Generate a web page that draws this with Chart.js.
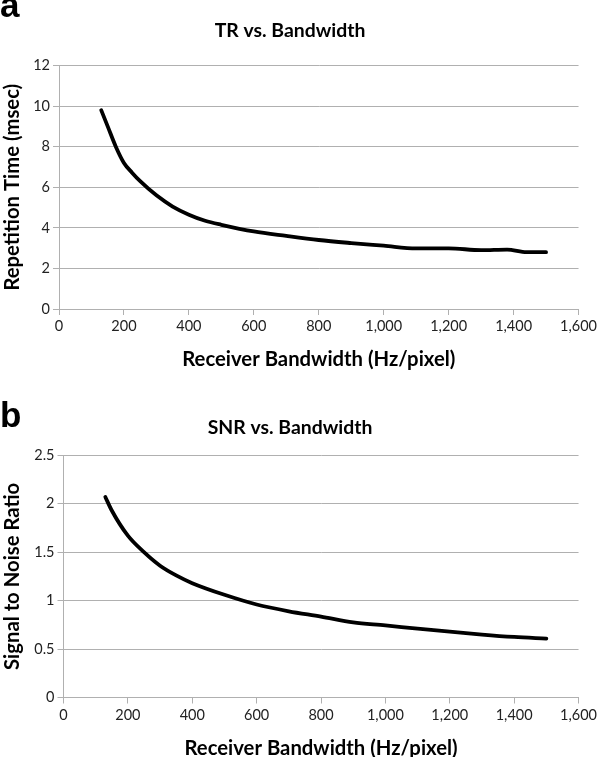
<!DOCTYPE html>
<html><head><meta charset="utf-8">
<script src="https://cdn.jsdelivr.net/npm/chart.js@4.4.1/dist/chart.umd.min.js"></script>
<style>
html,body{margin:0;padding:0;background:#fff}
body{width:600px;height:757px;overflow:hidden;position:relative}
canvas{position:absolute;left:0}
</style></head><body>
<canvas id="ca" width="600" height="378" style="top:0"></canvas>
<canvas id="cb" width="600" height="379" style="top:378px"></canvas>
<script>
// ---- data ----
const bandwidthA = [130, 150, 175, 200, 225, 250, 300, 350, 400, 450, 500, 600, 700, 800, 900, 1000, 1100, 1200, 1300, 1380, 1440, 1500];
const trValues   = [9.8, 9.0, 8.0, 7.2, 6.72, 6.3, 5.6, 5.05, 4.65, 4.35, 4.15, 3.82, 3.6, 3.4, 3.25, 3.12, 2.99, 2.99, 2.9, 2.93, 2.8, 2.8];
const bandwidthB = [130, 150, 200, 250, 300, 350, 400, 500, 600, 700, 800, 900, 1000, 1100, 1200, 1300, 1400, 1500];
const snrValues  = [2.07, 1.93, 1.67, 1.50, 1.36, 1.26, 1.18, 1.06, 0.96, 0.89, 0.835, 0.775, 0.745, 0.71, 0.68, 0.65, 0.625, 0.607];
const xTicks   = [0, 200, 400, 600, 800, 1000, 1200, 1400, 1600];
const trTicks  = [0, 2, 4, 6, 8, 10, 12];
const snrTicks = [0, 0.5, 1, 1.5, 2, 2.5];
const panelLetters = ['a', 'b'];
const panelTitles  = ['TR vs. Bandwidth', 'SNR vs. Bandwidth'];
const xAxisTitle   = 'Receiver Bandwidth (Hz/pixel)';
const yAxisTitles  = ['Repetition Time (msec)', 'Signal to Noise Ratio'];

// ---- font size fitting ----
const FAMILY = 'Lato, "Open Sans", sans-serif';
const mctx = document.createElement('canvas').getContext('2d');
function fit(text, weight, target) {
  mctx.font = weight + ' 100px ' + FAMILY;
  return Math.round(100 * target / mctx.measureText(text).width * 10) / 10;
}
const titleSize = fit(panelTitles[0], 'bold', 151);
const axisTitleSize = (fit(xAxisTitle, 'bold', 274) + fit(yAxisTitles[0], 'bold', 207)) / 2;
const tickSize = fit('1,600', 'normal', 37);

const GRID = '#b0b0b0';

function makeChart(id, xs, ys, yTicks, letter, title, yTitle, L) {
  const pts = xs.map((x, i) => ({ x: x, y: ys[i] }));
  const letterPlugin = {
    id: 'letter',
    afterDraw(chart) {
      const c = chart.ctx;
      c.save();
      c.font = 'bold 35px "Liberation Sans", Arial, sans-serif';
      c.fillStyle = '#000';
      c.textBaseline = 'alphabetic';
      c.textAlign = 'left';
      c.fillText(letter, 0, L.letterBase);
      c.restore();
    }
  };
  return new Chart(document.getElementById(id), {
    type: 'line',
    data: { datasets: [{ data: pts, borderColor: '#000', borderWidth: 3.8, pointRadius: 0,
      cubicInterpolationMode: 'monotone', fill: false, borderCapStyle: 'round', borderJoinStyle: 'round' }] },
    options: {
      responsive: false, animation: false, devicePixelRatio: 1,
      layout: { padding: { left: 0, right: 600 - L.right, top: 0, bottom: L.padBottom } },
      plugins: {
        legend: { display: false }, tooltip: { enabled: false },
        title: { display: true, text: title, color: '#000',
          font: { family: FAMILY, size: titleSize, weight: 'bold', lineHeight: 1.2 },
          padding: { top: L.titleTop, bottom: L.top - L.titleTop - titleSize * 1.2 } }
      },
      scales: {
        x: {
          type: 'linear', min: 0, max: 1600,
          afterBuildTicks: s => { s.ticks = xTicks.map(v => ({ value: v })); },
          ticks: { callback: v => Number(v).toLocaleString('en-US'), color: '#222',
            font: { family: FAMILY, size: tickSize }, padding: 3, maxRotation: 0, autoSkip: false },
          grid: { display: true, drawOnChartArea: false, drawTicks: true, tickLength: 6, color: GRID, lineWidth: 1 },
          border: { display: true, color: GRID, width: 1 },
          title: { display: true, text: xAxisTitle, color: '#000',
            font: { family: FAMILY, size: axisTitleSize, weight: 'bold', lineHeight: 1.2 },
            padding: { top: 0, bottom: L.xTitlePad } },
          afterFit: s => { s.height = L.xAxisH; }
        },
        y: {
          type: 'linear', min: yTicks[0], max: yTicks[yTicks.length - 1],
          afterBuildTicks: s => { s.ticks = yTicks.map(v => ({ value: v })); },
          ticks: { callback: v => String(v), color: '#222',
            font: { family: FAMILY, size: tickSize }, padding: 3 },
          grid: { display: true, drawTicks: true, tickLength: 6, color: GRID, lineWidth: 1 },
          border: { display: true, color: GRID, width: 1 },
          title: { display: true, text: yTitle, color: '#000',
            font: { family: FAMILY, size: axisTitleSize, weight: 'bold', lineHeight: 1.2 },
            padding: { top: 0, bottom: 0 } },
          afterFit: s => { s.width = L.left; }
        }
      }
    },
    plugins: [letterPlugin]
  });
}

makeChart('ca', bandwidthA, trValues, trTicks, panelLetters[0], panelTitles[0], yAxisTitles[0],
  { left: 59, right: 580, top: 65.5, titleTop: 19, padBottom: 6, xAxisH: 378 - 309 - 6, xTitlePad: 0, letterBase: 17 });
makeChart('cb', bandwidthB, snrValues, snrTicks, panelLetters[1], panelTitles[1], yAxisTitles[1],
  { left: 63.5, right: 580, top: 77.3, titleTop: 38.5, padBottom: 0, xAxisH: 379 - 319.5, xTitlePad: -4, letterBase: 49 });
</script>
</body></html>
